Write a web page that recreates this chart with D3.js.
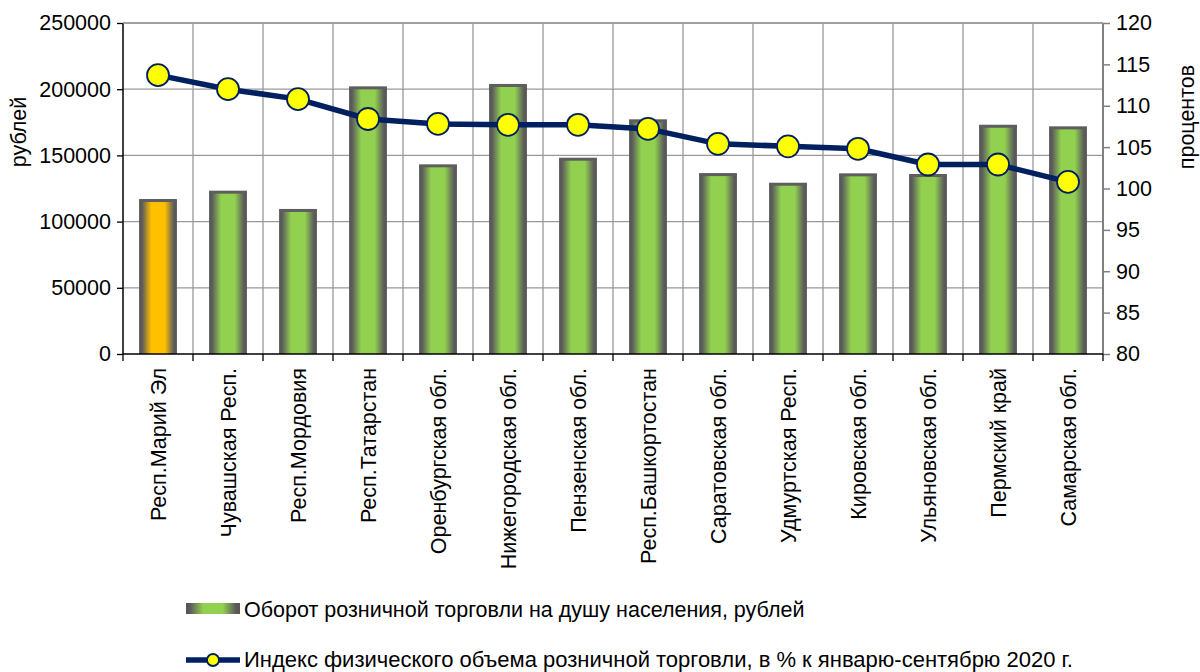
<!DOCTYPE html>
<html>
<head>
<meta charset="utf-8">
<script src="https://cdn.jsdelivr.net/npm/d3@7"></script>
<style>
  body { margin: 0; background: #fff; }
  text { font-family: "Liberation Sans", Arial, sans-serif; fill: #000; }
</style>
</head>
<body>
<div id="chart"></div>
<script>
// data
var regions = ["Респ.Марий Эл", "Чувашская Респ.", "Респ.Мордовия", "Респ.Татарстан",
  "Оренбургская обл.", "Нижегородская обл.", "Пензенская обл.", "Респ.Башкортостан",
  "Саратовская обл.", "Удмуртская Респ.", "Кировская обл.", "Ульяновская обл.",
  "Пермский край", "Самарская обл."];
var turnover = [116300, 122600, 108800, 201400, 142500, 203200, 147500, 176500,
  135900, 128600, 135700, 135200, 172400, 171200];
var volumeIndex = [113.7, 112.0, 110.8, 108.4, 107.8, 107.7, 107.7, 107.2,
  105.4, 105.1, 104.8, 102.9, 102.9, 100.8];
var leftTicks = [0, 50000, 100000, 150000, 200000, 250000];
var rightTicks = [80, 85, 90, 95, 100, 105, 110, 115, 120];
var barLabel = "Оборот розничной торговли на душу населения, рублей";
var lineLabel = "Индекс физического объема розничной торговли, в % к январю-сентябрю 2020 г.";

var svgWidth = 1200;
var svgHeight = 672;
var margin = { top: 23, right: 97, bottom: 318, left: 123 };
var width = svgWidth - margin.left - margin.right;
var height = svgHeight - margin.top - margin.bottom;
var fontSize = "21.5px";

var svg = d3.select("#chart")
  .append("svg")
  .attr("width", svgWidth)
  .attr("height", svgHeight);

// gradients for the bars
var defs = svg.append("defs");
function addGradient(id, mid) {
  var g = defs.append("linearGradient").attr("id", id)
    .attr("x1", "0%").attr("x2", "100%").attr("y1", "0%").attr("y2", "0%");
  g.append("stop").attr("offset", "0%").attr("stop-color", "#555555");
  g.append("stop").attr("offset", "8%").attr("stop-color", "#5c5c5c");
  g.append("stop").attr("offset", "32%").attr("stop-color", mid);
  g.append("stop").attr("offset", "68%").attr("stop-color", mid);
  g.append("stop").attr("offset", "92%").attr("stop-color", "#5c5c5c");
  g.append("stop").attr("offset", "100%").attr("stop-color", "#555555");
}
addGradient("gGreen", "#92D050");
addGradient("gOrange", "#FFC000");

var chartGroup = svg.append("g")
  .attr("transform", `translate(${margin.left}, ${margin.top})`);

var x = d3.scaleBand()
  .domain(regions)
  .range([0, width])
  .paddingInner(0.46)
  .paddingOuter(0.23);

var yLeft = d3.scaleLinear().domain([0, 250000]).range([height, 0]);
var yRight = d3.scaleLinear().domain([80, 120]).range([height, 0]);

// grid
chartGroup.append("g")
  .selectAll("line")
  .data(leftTicks.slice(1))
  .enter()
  .append("line")
  .attr("x1", 0).attr("x2", width)
  .attr("y1", d => yLeft(d)).attr("y2", d => yLeft(d))
  .attr("stroke", "#9a9a9a").attr("stroke-width", 1.3);

var boundaries = regions.map(r => x(r) - x.step() * x.paddingInner() / 2).slice(1);
chartGroup.append("g")
  .selectAll("line")
  .data(boundaries)
  .enter()
  .append("line")
  .attr("x1", d => d).attr("x2", d => d)
  .attr("y1", 0).attr("y2", height)
  .attr("stroke", "#9a9a9a").attr("stroke-width", 1.3);

// bars
var bars = chartGroup.append("g")
  .selectAll("g")
  .data(regions)
  .enter()
  .append("g");

bars.append("rect")
  .attr("x", d => x(d))
  .attr("y", (d, i) => yLeft(turnover[i]))
  .attr("width", x.bandwidth())
  .attr("height", (d, i) => height - yLeft(turnover[i]))
  .attr("fill", (d, i) => i === 0 ? "url(#gOrange)" : "url(#gGreen)");

bars.append("rect")
  .attr("x", d => x(d))
  .attr("y", (d, i) => yLeft(turnover[i]) - 1)
  .attr("width", x.bandwidth())
  .attr("height", 3)
  .attr("fill", "#5e5e5e");

// axes
var leftAxis = d3.axisLeft(yLeft).tickValues(leftTicks).tickFormat(d3.format("d"))
  .tickSize(6).tickPadding(6);
var gl = chartGroup.append("g").call(leftAxis);
gl.select(".domain").remove();
gl.selectAll("line").attr("stroke", "#000").attr("stroke-width", 1.3);
gl.selectAll("text").style("font-size", fontSize);
chartGroup.append("line")
  .attr("x1", 0).attr("x2", 0).attr("y1", 0).attr("y2", height)
  .attr("stroke", "#000").attr("stroke-width", 1.5);

var rightAxis = d3.axisRight(yRight).tickValues(rightTicks).tickSize(7).tickPadding(6);
var gr = chartGroup.append("g")
  .attr("transform", `translate(${width}, 0)`)
  .call(rightAxis);
gr.select(".domain").remove();
gr.selectAll("line").attr("stroke", "#808080").attr("stroke-width", 1.5);
gr.selectAll("text").style("font-size", fontSize);
chartGroup.append("line")
  .attr("x1", width).attr("x2", width).attr("y1", 0).attr("y2", height)
  .attr("stroke", "#808080").attr("stroke-width", 2);

// top border
chartGroup.append("line")
  .attr("x1", 0).attr("x2", width).attr("y1", 0).attr("y2", 0)
  .attr("stroke", "#9a9a9a").attr("stroke-width", 1.3);

// bottom axis with ticks between categories
chartGroup.append("line")
  .attr("x1", 0).attr("x2", width).attr("y1", height).attr("y2", height)
  .attr("stroke", "#000").attr("stroke-width", 1.5);
chartGroup.append("g")
  .selectAll("line")
  .data([0].concat(boundaries).concat([width]))
  .enter()
  .append("line")
  .attr("x1", d => d).attr("x2", d => d)
  .attr("y1", height).attr("y2", height + 7)
  .attr("stroke", "#000").attr("stroke-width", 1.3);

chartGroup.append("g")
  .selectAll("text")
  .data(regions)
  .enter()
  .append("text")
  .attr("transform", d => `translate(${x(d) + x.bandwidth() / 2 + 7.5}, ${height + 14}) rotate(-90)`)
  .attr("text-anchor", "end")
  .style("font-size", fontSize)
  .text(d => d);

// line series
var line = d3.line()
  .x(d => x(d) + x.bandwidth() / 2)
  .y((d, i) => yRight(volumeIndex[i]));

chartGroup.append("path")
  .datum(regions)
  .attr("d", line)
  .attr("fill", "none")
  .attr("stroke", "#002060")
  .attr("stroke-width", 5.5)
  .attr("stroke-linejoin", "round");

chartGroup.append("g")
  .selectAll("circle")
  .data(regions)
  .enter()
  .append("circle")
  .attr("cx", d => x(d) + x.bandwidth() / 2)
  .attr("cy", (d, i) => yRight(volumeIndex[i]))
  .attr("r", 11)
  .attr("fill", "#FFFF00")
  .attr("stroke", "#002060")
  .attr("stroke-width", 1.8);

// axis titles
svg.append("text")
  .attr("transform", "translate(26, 132) rotate(-90)")
  .attr("text-anchor", "middle")
  .style("font-size", fontSize)
  .text("рублей");

svg.append("text")
  .attr("transform", "translate(1194, 117) rotate(-90)")
  .attr("text-anchor", "middle")
  .style("font-size", fontSize)
  .text("процентов");

// legend
var legend = svg.append("g");
legend.append("rect")
  .attr("x", 186).attr("y", 603)
  .attr("width", 54).attr("height", 11)
  .attr("fill", "url(#gGreen)");
legend.append("text")
  .attr("x", 244).attr("y", 617)
  .style("font-size", fontSize)
  .text(barLabel);

legend.append("line")
  .attr("x1", 186).attr("x2", 240).attr("y1", 660).attr("y2", 660)
  .attr("stroke", "#002060").attr("stroke-width", 5.5);
legend.append("circle")
  .attr("cx", 213).attr("cy", 660).attr("r", 6)
  .attr("fill", "#FFFF00").attr("stroke", "#002060").attr("stroke-width", 1.8);
legend.append("text")
  .attr("x", 244).attr("y", 667)
  .style("font-size", "22px")
  .text(lineLabel);
</script>
</body>
</html>
